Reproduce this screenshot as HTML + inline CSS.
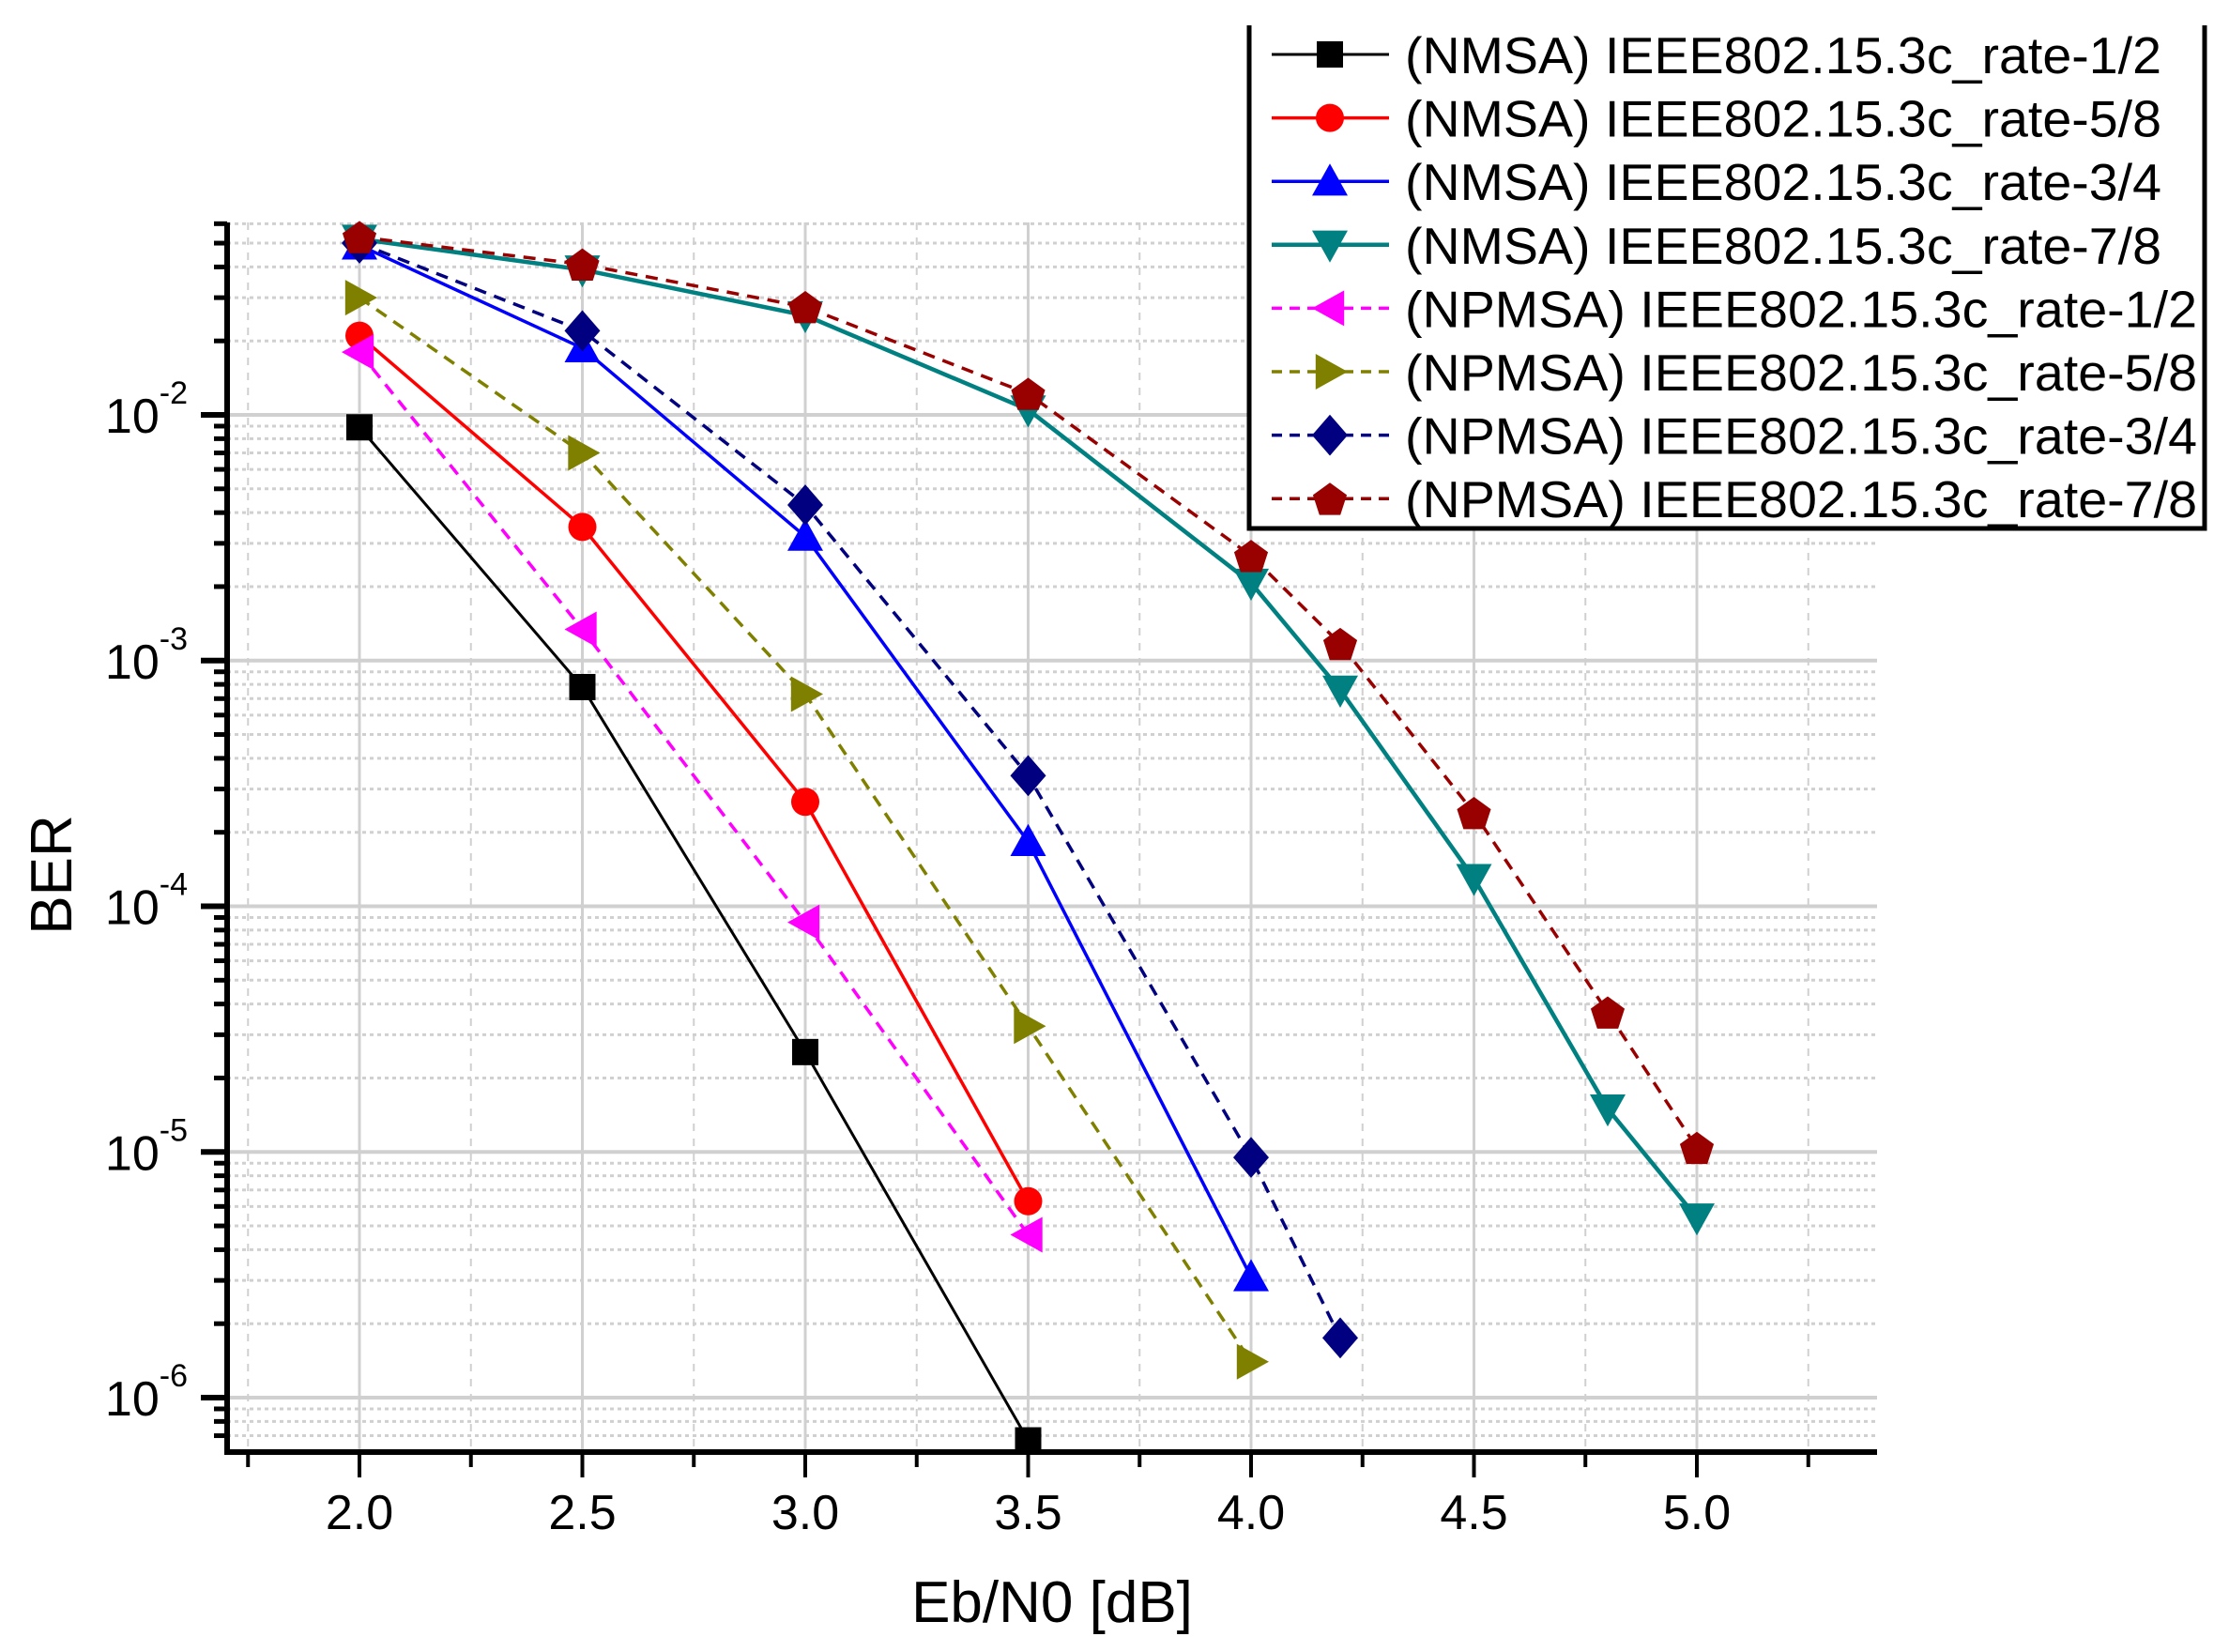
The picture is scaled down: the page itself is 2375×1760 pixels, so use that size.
<!DOCTYPE html>
<html><head><meta charset="utf-8"><style>
html,body{margin:0;padding:0;background:#fff;}
svg{display:block;font-family:"Liberation Sans",Arial,sans-serif;}
</style></head><body>
<svg id="chart" width="2375" height="1760" viewBox="0 0 2375 1760" xmlns="http://www.w3.org/2000/svg">
<g id="grid"></g>
<g id="series"></g>
<g id="axes"></g>
<g id="legend"></g>
</svg>
<script>
const seriesNames = ["(NMSA) IEEE802.15.3c_rate-1/2","(NMSA) IEEE802.15.3c_rate-5/8","(NMSA) IEEE802.15.3c_rate-3/4","(NMSA) IEEE802.15.3c_rate-7/8","(NPMSA) IEEE802.15.3c_rate-1/2","(NPMSA) IEEE802.15.3c_rate-5/8","(NPMSA) IEEE802.15.3c_rate-3/4","(NPMSA) IEEE802.15.3c_rate-7/8"];
const xNmsa12 = [2.0,2.5,3.0,3.5];
const yNmsa12 = [8.9e-3,7.8e-4,2.55e-5,6.7e-7];
const xNmsa58 = [2.0,2.5,3.0,3.5];
const yNmsa58 = [2.1e-2,3.5e-3,2.66e-4,6.3e-6];
const xNmsa34 = [2.0,2.5,3.0,3.5,4.0];
const yNmsa34 = [4.9e-2,1.87e-2,3.2e-3,1.83e-4,3.1e-6];
const xNmsa78 = [2.0,2.5,3.0,3.5,4.0,4.2,4.5,4.8,5.0];
const yNmsa78 = [5.2e-2,3.9e-2,2.54e-2,1.05e-2,2.07e-3,7.6e-4,1.3e-4,1.5e-5,5.4e-6];
const xNpmsa12 = [2.0,2.5,3.0,3.5];
const yNpmsa12 = [1.8e-2,1.34e-3,8.6e-5,4.6e-6];
const xNpmsa58 = [2.0,2.5,3.0,3.5,4.0];
const yNpmsa58 = [3.0e-2,7.0e-3,7.3e-4,3.25e-5,1.4e-6];
const xNpmsa34 = [2.0,2.5,3.0,3.5,4.0,4.2];
const yNpmsa34 = [5.0e-2,2.2e-2,4.3e-3,3.4e-4,9.5e-6,1.75e-6];
const xNpmsa78 = [2.0,2.5,3.0,3.5,4.0,4.2,4.5,4.8,5.0];
const yNpmsa78 = [5.3e-2,4.1e-2,2.75e-2,1.22e-2,2.67e-3,1.17e-3,2.4e-4,3.7e-5,1.04e-5];
const xTickLabels = ["2.0","2.5","3.0","3.5","4.0","4.5","5.0"];
const yTickExps = [-2,-3,-4,-5,-6];

const NS="http://www.w3.org/2000/svg";
const L=242,R=2000,T=237,B=1547;
const X0=383, XPX=475;
const YREF=442, DEC=261.75;
function sx(v){return X0+(v-2.0)*XPX;}
function sy(v){return YREF+(-2-Math.log10(v))*DEC;}
function mk(tag,attrs,parent){const e=document.createElementNS(NS,tag);for(const k in attrs)e.setAttribute(k,attrs[k]);parent.appendChild(e);return e;}

const grid=document.getElementById('grid');
for(let v=1.75;v<=5.26;v+=0.25){
  const major=Math.abs(v*2-Math.round(v*2))<1e-6;
  const ln=mk('line',{x1:sx(v),x2:sx(v),y1:T,y2:B,stroke:'#d0d0d0','stroke-width':major?3:2,'stroke-dasharray':major?'':'8,8'},grid);
  
  
}
for(let e=-7;e<=-1;e++){
  for(let m=1;m<=9;m++){
    const v=m*Math.pow(10,e);const y=sy(v);
    if(y<T||y>B)continue;
    const ln=mk('line',{x1:L,x2:R,y1:y,y2:y,stroke:'#d0d0d0','stroke-width':m===1?4:3,'stroke-dasharray':m===1?'':'4,4'},grid);
    
    
  }
}

const styles=[
 {c:'#000000',dash:'',m:'square',w:3,x:xNmsa12,y:yNmsa12},
 {c:'#ff0000',dash:'',m:'circle',w:3.5,x:xNmsa58,y:yNmsa58},
 {c:'#0000ff',dash:'',m:'tri-up',w:3.5,x:xNmsa34,y:yNmsa34},
 {c:'#008080',dash:'',m:'tri-down',w:4.5,x:xNmsa78,y:yNmsa78},
 {c:'#ff00ff',dash:'13,9',m:'tri-left',w:3.5,x:xNpmsa12,y:yNpmsa12},
 {c:'#808000',dash:'13,9',m:'tri-right',w:3.5,x:xNpmsa58,y:yNpmsa58},
 {c:'#000080',dash:'13,9',m:'diamond',w:3.5,x:xNpmsa34,y:yNpmsa34},
 {c:'#990000',dash:'13,9',m:'pentagon',w:3.5,x:xNpmsa78,y:yNpmsa78}
];
function marker(type,cx,cy,color,parent,s){
  s=s||1;let e;
  if(type==='square')e=mk('rect',{x:cx-14*s,y:cy-14*s,width:28*s,height:28*s,fill:color},parent);
  else if(type==='circle')e=mk('circle',{cx:cx,cy:cy,r:15*s,fill:color},parent);
  else{
    let pts;const a=19*s;
    if(type==='tri-up')pts=[[0,-a],[a,a*0.8],[-a,a*0.8]];
    else if(type==='tri-down')pts=[[0,a],[a,-a*0.8],[-a,-a*0.8]];
    else if(type==='tri-left')pts=[[-a,0],[a*0.8,-a],[a*0.8,a]];
    else if(type==='tri-right')pts=[[a,0],[-a*0.8,-a],[-a*0.8,a]];
    else if(type==='diamond')pts=[[0,-a*1.15],[a,0],[0,a*1.15],[-a,0]];
    else{pts=[];for(let i=0;i<5;i++){const ang=-Math.PI/2+i*2*Math.PI/5;pts.push([a*Math.cos(ang),a*Math.sin(ang)+2]);}}
    e=mk('polygon',{points:pts.map(p=>(cx+p[0])+','+(cy+p[1])).join(' '),fill:color},parent);
  }
  return e;
}
const sl=document.getElementById('series');
styles.forEach((st,i)=>{
  const g=mk('g',{},sl);
  
  
  const pts=st.x.map((v,j)=>sx(v)+','+sy(st.y[j])).join(' ');
  const pl=mk('polyline',{points:pts,fill:'none',stroke:st.c,'stroke-width':st.w,'stroke-dasharray':st.dash},g);
  
  
  st.x.forEach((v,j)=>{
    const m=marker(st.m,sx(v),sy(st.y[j]),st.c,g);
    
    
  });
});

const ax=document.getElementById('axes');
const yl=mk('line',{x1:L,x2:L,y1:T,y2:B+3,stroke:'#000','stroke-width':6},ax);


const xl=mk('line',{x1:L-3,x2:R,y1:B,y2:B,stroke:'#000','stroke-width':6},ax);


for(let v=1.75;v<=5.26;v+=0.25){
  const major=Math.abs(v*2-Math.round(v*2))<1e-6;
  const t=mk('line',{x1:sx(v),x2:sx(v),y1:B,y2:B+(major?27:16),stroke:'#000','stroke-width':4},ax);
  
  
}
xTickLabels.forEach(s=>{
  const t=mk('text',{x:sx(parseFloat(s)),y:1629,'font-size':52,'text-anchor':'middle',fill:'#000'},ax);
  t.textContent=s;
  
  
});
for(let e=-7;e<=-1;e++){
  for(let m=1;m<=9;m++){
    const y=sy(m*Math.pow(10,e));
    if(y<T-2||y>B)continue;
    const t=mk('line',{x1:L-(m===1?28:14),x2:L,y1:y,y2:y,stroke:'#000','stroke-width':m===1?6:5},ax);
    
    
  }
}
yTickExps.forEach(e=>{
  const y=sy(Math.pow(10,e));
  const t=mk('text',{x:200,y:y+19,'font-size':52,'text-anchor':'end',fill:'#000'},ax);
  
  
  const b=mk('tspan',{},t);b.textContent='10';
  const s=mk('tspan',{dy:-31,'font-size':34},t);s.textContent=String(e);
});
const xt=mk('text',{x:1121,y:1728,'font-size':62,'text-anchor':'middle',fill:'#000'},ax);
xt.textContent='Eb/N0 [dB]';


const ytt=mk('text',{x:0,y:0,'font-size':62,'text-anchor':'middle',fill:'#000',transform:'translate(76,932) rotate(-90)'},ax);
ytt.textContent='BER';



const lg=document.getElementById('legend');
const box=mk('path',{d:'M1331,27 L1331,563 L2349,563 L2349,27',fill:'#fff',stroke:'#000','stroke-width':5},lg);


styles.forEach((st,i)=>{
  const y=58+i*67.6;
  const g=mk('g',{},lg);
  
  
  mk('line',{x1:1355,x2:1480,y1:y,y2:y,stroke:st.c,'stroke-width':st.w,'stroke-dasharray':st.dash?'11,8':''},g);
  marker(st.m,1417,y,st.c,g,1);
  const t=mk('text',{x:1497,y:y+20,'font-size':55,fill:'#000',textLength:(i<4?806:844),lengthAdjust:'spacingAndGlyphs'},g);
  t.textContent=seriesNames[i];
});
</script>
</body></html>
